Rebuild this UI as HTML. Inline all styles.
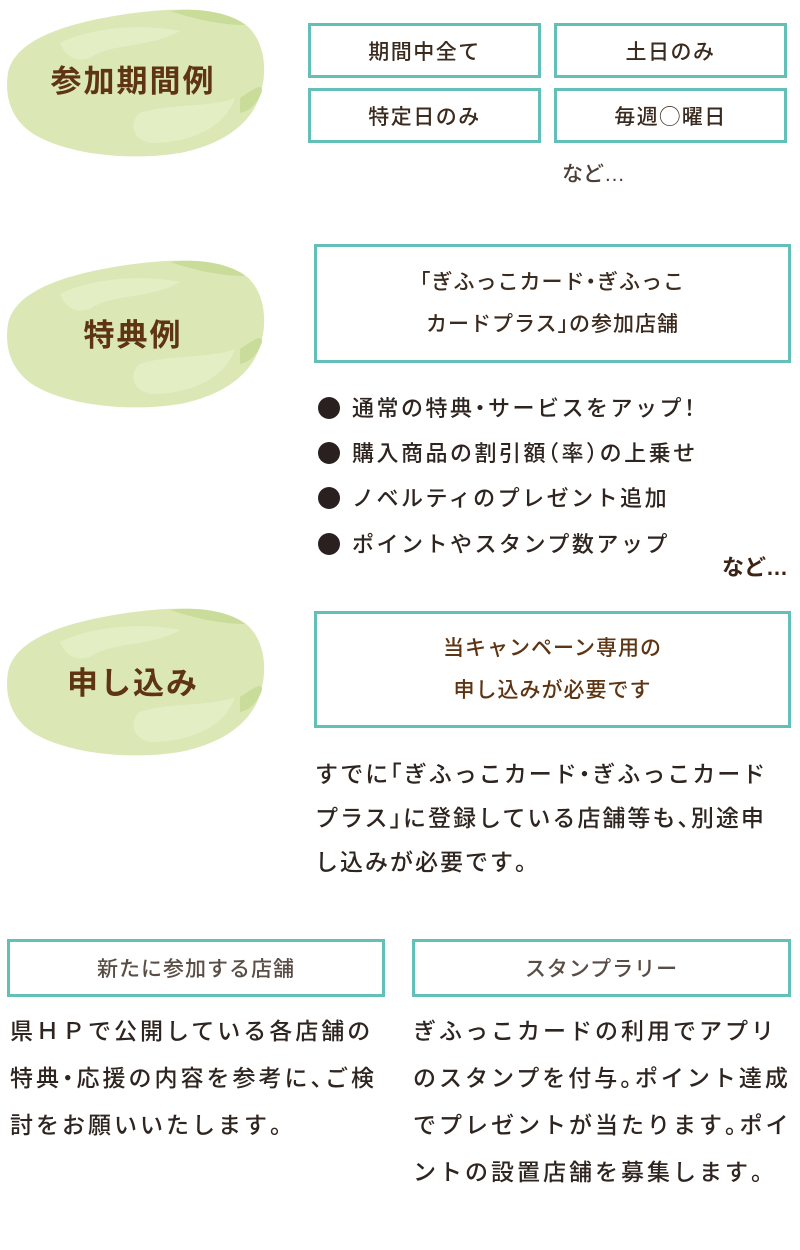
<!DOCTYPE html>
<html><head><meta charset="utf-8"><style>
body{margin:0;width:800px;height:1250px;background:#fff;position:relative;overflow:hidden;font-family:"Liberation Sans","Noto Sans CJK JP",sans-serif;}
.a{position:absolute;white-space:nowrap;}
.blob{position:absolute;}
.h{position:absolute;color:#5e3412;font-weight:bold;font-size:31px;letter-spacing:2px;text-align:center;width:266px;left:0;}
.box{position:absolute;border:3px solid #62c0b8;box-sizing:border-box;display:flex;align-items:center;justify-content:center;text-align:center;color:#3b2a1e;font-weight:500;}
.sm{font-size:21px;letter-spacing:1.5px;}
.t{color:#2f2520;font-size:23px;letter-spacing:2px;font-weight:500;}
.b{color:#2f2520;font-size:22px;letter-spacing:2.5px;font-weight:500;}
.dot{display:inline-block;width:22px;height:22px;border-radius:50%;background:#2a2020;vertical-align:-3px;margin-right:12px;}
.g{color:#5a4d45;font-size:21px;letter-spacing:1px;font-weight:500;}
.p{font-feature-settings:"halt";}
</style></head><body>

<svg class="blob" style="left:0;top:0" width="800" height="760">
<defs>
<g id="bl">
<path d="M8,70 C15,35 70,20 120,12 C170,4 215,4 240,18 C262,30 268,60 262,85 C256,115 230,140 180,150 C130,158 70,152 35,132 C12,118 4,95 8,70Z" fill="#dbe8b6"/>
<path d="M60,40 C90,25 140,20 180,28 C150,45 110,40 90,55 C75,60 65,52 60,40Z" fill="#e6efc9" opacity=".8"/>
<path d="M140,110 C170,100 210,105 235,95 C225,125 190,140 150,140 C130,135 130,118 140,110Z" fill="#e6efc9" opacity=".8"/>
<path d="M170,8 C200,4 230,10 245,22 C225,22 200,18 170,8Z" fill="#c9dc9a"/>
<path d="M240,95 C255,85 262,80 262,88 C258,100 250,108 240,110Z" fill="#c9dc9a"/>
</g>
</defs>
<use href="#bl" x="0" y="3"/>
<use href="#bl" x="0" y="254"/>
<use href="#bl" x="0" y="602"/>
</svg>

<div class="h" style="top:56px">参加期間例</div>
<div class="h" style="top:310px">特典例</div>
<div class="h" style="top:658px">申し込み</div>

<div class="box sm" style="left:308px;top:23px;width:233px;height:55px">期間中全て</div>
<div class="box sm" style="left:554px;top:23px;width:233px;height:55px">土日のみ</div>
<div class="box sm" style="left:308px;top:88px;width:233px;height:55px">特定日のみ</div>
<div class="box sm" style="left:554px;top:88px;width:233px;height:55px">毎週◯曜日</div>
<div class="a" style="left:562px;top:158px;font-size:21px;color:#4a3e36;font-weight:500">など…</div>

<div class="box" style="left:314px;top:244px;width:477px;height:119px;font-size:21px;letter-spacing:1px;line-height:42px"><span><span class="p">「</span>ぎふっこカード<span class="p">・</span>ぎふっこ<br>カードプラス<span class="p">」</span>の参加店舗</span></div>

<div class="a b" style="left:318px;top:391px">
<div style="height:45px"><span class="dot"></span>通常の特典<span class="p">・</span>サービスをアップ<span class="p">！</span></div>
<div style="height:45px"><span class="dot"></span>購入商品の割引額<span class="p">（</span>率<span class="p">）</span>の上乗せ</div>
<div style="height:46px"><span class="dot"></span>ノベルティのプレゼント追加</div>
<div style="height:45px"><span class="dot"></span>ポイントやスタンプ数アップ</div>
</div>
<div class="a" style="left:722px;top:550px;font-size:22px;color:#3b2416;font-weight:bold">など…</div>

<div class="box" style="left:314px;top:611px;width:477px;height:117px;font-size:21px;letter-spacing:1px;line-height:42px;color:#5e3412">当キャンペーン専用の<br>申し込みが必要です</div>

<div class="a t" style="left:315px;top:752px;line-height:44px">すでに<span class="p">「</span>ぎふっこカード<span class="p">・</span>ぎふっこカード<br>プラス<span class="p">」</span>に登録している店舗等も<span class="p">、</span>別途申<br>し込みが必要です<span class="p">。</span></div>

<div class="box g" style="left:7px;top:939px;width:378px;height:58px">新たに参加する店舗</div>
<div class="box g" style="left:412px;top:939px;width:379px;height:58px">スタンプラリー</div>

<div class="a t" style="left:10px;top:1008px;line-height:47px;letter-spacing:3px">県ＨＰで公開している各店舗の<br>特典<span class="p">・</span>応援の内容を参考に<span class="p">、</span>ご検<br>討をお願いいたします<span class="p">。</span></div>
<div class="a t" style="left:413px;top:1008px;line-height:47px;letter-spacing:3px">ぎふっこカードの利用でアプリ<br>のスタンプを付与<span class="p">。</span>ポイント達成<br>でプレゼントが当たります<span class="p">。</span>ポイ<br>ントの設置店舗を募集します<span class="p">。</span></div>

</body></html>
